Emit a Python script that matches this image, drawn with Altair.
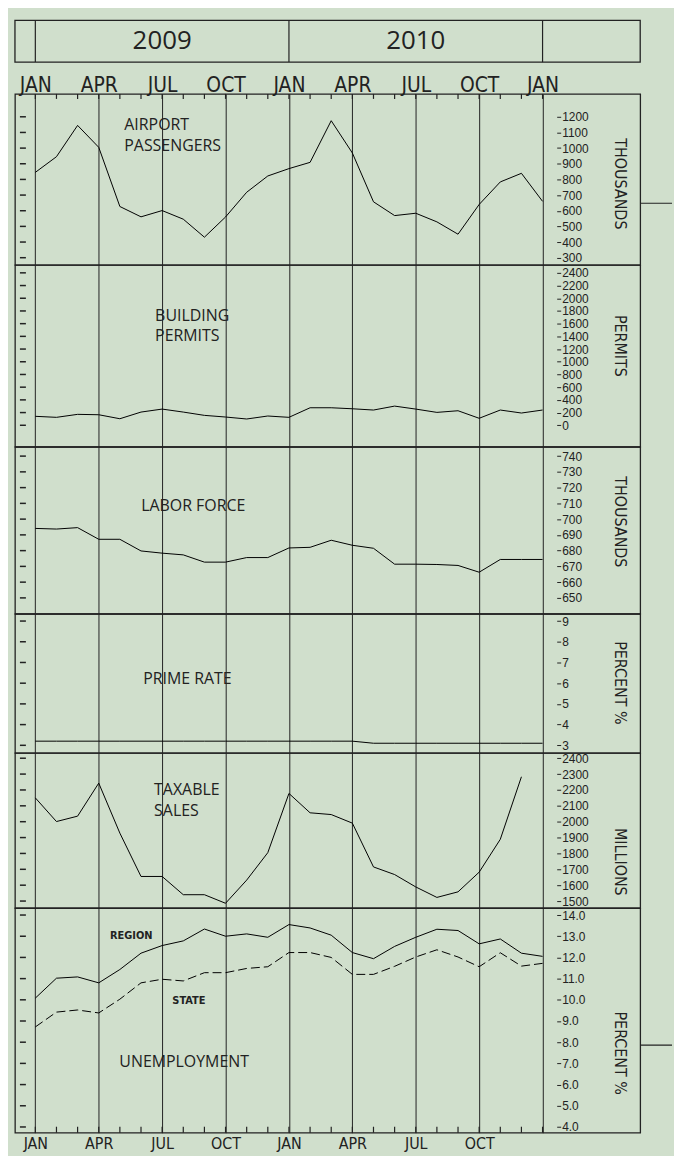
import json
import altair as alt
import pandas as pd

# ---------------- data ----------------
months = list(range(25))                     # Jan 2009 ... Jan 2011 (month index)
quarter_months = [0, 3, 6, 9, 12, 15, 18, 21, 24]
top_month_labels = ["JAN", "APR", "JUL", "OCT", "JAN", "APR", "JUL", "OCT", "JAN"]
bottom_month_labels = ["JAN", "APR", "JUL", "OCT", "JAN", "APR", "JUL", "OCT", ""]
years = ["2009", "2010"]
year_mid = [6, 18]
year_edges = [0, 12, 24]

airport = [845, 945, 1145, 1005, 627, 561, 601, 546, 431, 560, 718, 822, 869,
           909, 1175, 969, 657, 569, 584, 529, 450, 640, 784, 839, 660]
permits = [141, 125, 172, 166, 103, 208, 255, 208, 156, 130, 99, 146, 125,
           276, 276, 260, 240, 302, 255, 203, 229, 110, 240, 193, 240]
labor = [694.1, 693.7, 694.6, 687.2, 687.2, 679.8, 678.4, 677.3, 672.7, 672.7, 675.6, 675.6, 681.7,
         682.1, 686.6, 683.4, 681.5, 671.4, 671.4, 671.2, 670.6, 666.3, 674.4, 674.4, 674.4]
prime = [3.2, 3.2, 3.2, 3.2, 3.2, 3.2, 3.2, 3.2, 3.2, 3.2, 3.2, 3.2, 3.2,
         3.2, 3.2, 3.2, 3.1, 3.1, 3.1, 3.1, 3.1, 3.1, 3.1, 3.1, 3.1]
taxable = [2150, 2001, 2035, 2243, 1928, 1655, 1655, 1540, 1540, 1486, 1632, 1805,
           2178, 2056, 2045, 1991, 1715, 1667, 1589, 1523, 1558, 1682, 1889, 2283]
unemp_region = [10.08, 11.02, 11.08, 10.80, 11.43, 12.20, 12.56, 12.78, 13.34, 13.00, 13.11, 12.95, 13.55,
                13.39, 13.05, 12.23, 11.94, 12.52, 12.95, 13.33, 13.27, 12.64, 12.87, 12.20, 12.05]
unemp_state = [8.72, 9.42, 9.52, 9.38, 10.03, 10.80, 10.97, 10.89, 11.28, 11.28, 11.48, 11.56, 12.23,
               12.23, 12.00, 11.20, 11.20, 11.58, 12.02, 12.36, 12.02, 11.56, 12.22, 11.59, 11.72]

airport_ticks = [300, 400, 500, 600, 700, 800, 900, 1000, 1100, 1200]
permits_ticks = [0, 200, 400, 600, 800, 1000, 1200, 1400, 1600, 1800, 2000, 2200, 2400]
labor_ticks = [650, 660, 670, 680, 690, 700, 710, 720, 730, 740]
prime_ticks = [3, 4, 5, 6, 7, 8, 9]
taxable_ticks = [1500, 1600, 1700, 1800, 1900, 2000, 2100, 2200, 2300, 2400]
unemp_ticks = [4, 5, 6, 7, 8, 9, 10, 11, 12, 13, 14]

# ---------------- style / layout ----------------
BG = "#d0dfcc"
INK = "#222222"
W = 629
STUB = 32
XDOM = [-0.964, 28.62]
xscale = alt.Scale(domain=XDOM, nice=False, zero=False)
NARROW = "DejaVu Sans Condensed, Roboto Condensed, Liberation Sans Narrow, Liberation Sans, sans-serif"
LIGHT = "Open Sans, DejaVu Sans, sans-serif"


def grid_axis():
    return alt.Axis(values=quarter_months, grid=True, gridColor=INK, gridWidth=1, gridOpacity=1,
                    labels=False, ticks=False, tickSize=0, domain=False, title=None)


def month_axis(orient, labels):
    arr = json.dumps(labels)
    if orient == "top":
        pad, base, size = 2, "alphabetic", 21
    else:
        pad, base, size = 3, "top", 16
    return alt.Axis(orient=orient, values=quarter_months, grid=True, gridColor=INK, gridWidth=1,
                    gridOpacity=1, ticks=False, tickSize=0, domain=False, title=None,
                    labelExpr=f"{arr}[round(datum.value / 3)]", labelFont=NARROW,
                    labelFontSize=size, labelColor=INK, labelPadding=pad, labelBaseline=base,
                    labelAngle=0, labelOverlap=False, labelFlush=False)


def y_axis(ticks, unit, unit_y, fmt):
    return alt.Axis(orient="right", offset=-84, values=ticks, format=fmt, domain=False, grid=False,
                    tickSize=4, tickColor=INK, tickWidth=1, labelPadding=1,
                    labelFont="Liberation Sans", labelFontSize=12, labelColor=INK,
                    labelOverlap=False, labelFlush=False, labelBaseline="middle",
                    title=unit, titleAngle=90, titleX=63, titleY=unit_y,
                    titleFont=NARROW, titleFontSize=16, titleFontWeight="normal",
                    titleColor=INK, titleAlign="center", titleBaseline="middle")


def title_text(txt, x, y, size=16):
    return alt.Chart(pd.DataFrame({"t": [txt]})).mark_text(
        align="left", baseline="middle", font=LIGHT, fontSize=size, fontWeight="normal", color=INK
    ).encode(x=alt.value(x), y=alt.value(y), text="t:N")


def panel(series, ticks, domain, height, unit, unit_y, fmt, titles, xaxis_fn=grid_axis,
          extra=None):
    yenc = alt.Y("value:Q", scale=alt.Scale(domain=domain, nice=False, zero=False),
                 axis=y_axis(ticks, unit, unit_y, fmt))
    layers = []
    for vals, dash in series:
        df = pd.DataFrame({"m": months[:len(vals)], "value": vals})
        props = dict(color="black", strokeWidth=1)
        if dash:
            props["strokeDash"] = dash
        layers.append(alt.Chart(df).mark_line(**props).encode(
            x=alt.X("m:Q", scale=xscale, axis=xaxis_fn()), y=yenc))
    tdf = pd.DataFrame({"m": [0] * len(ticks), "value": ticks})
    layers.append(alt.Chart(tdf).mark_rule(color=INK, strokeWidth=1.5).encode(
        x=alt.value(5), x2=alt.value(11), y=yenc))
    for txt, x, y in titles:
        layers.append(title_text(txt, x, y))
    if extra:
        layers.extend(extra)
    return alt.layer(*layers).properties(width=W, height=height)


one = pd.DataFrame({"k": [0]})
mdf = pd.DataFrame({"m": months})

# ---- top year box ----
top = alt.layer(
    alt.Chart(one).mark_rect(fill="transparent", stroke=INK, strokeWidth=1.3).encode(
        x=alt.value(0), x2=alt.value(W), y=alt.value(0), y2=alt.value(42)),
    alt.Chart(pd.DataFrame({"m": year_edges})).mark_rule(color=INK, strokeWidth=1.2).encode(
        x=alt.X("m:Q", scale=xscale, axis=None), y=alt.value(0), y2=alt.value(42)),
    alt.Chart(pd.DataFrame({"m": year_mid, "t": years})).mark_text(
        font=LIGHT, fontSize=26, fontWeight="normal", color=INK, baseline="middle", align="center"
    ).encode(x=alt.X("m:Q", scale=xscale, axis=None), y=alt.value(21), text="t:N"),
).properties(width=W, height=74, view=alt.ViewBackground(stroke="transparent"))

# ---- airport ----
air_extra = [
    alt.Chart(mdf).mark_rule(color=INK, strokeWidth=1.2).encode(
        x=alt.X("m:Q", scale=xscale, axis=month_axis("top", top_month_labels)),
        y=alt.value(0), y2=alt.value(5)),
    alt.Chart(one).mark_rule(color=INK, strokeWidth=1.2).encode(
        x=alt.value(W), x2=alt.value(W + STUB), y=alt.value(110)),
]
p_air = panel([(airport, None)], airport_ticks, [254, 1346], 172, "THOUSANDS", 90, "d",
              [("AIRPORT", 110, 31.5), ("PASSENGERS", 110, 52.8)],
              xaxis_fn=lambda: month_axis("top", top_month_labels), extra=air_extra)

p_perm = panel([(permits, None)], permits_ticks, [-339, 2525], 183, "PERMITS", 81, "d",
               [("BUILDING", 141, 51), ("PERMITS", 141, 72)])

p_labor = panel([(labor, None)], labor_ticks, [639.9, 745.9], 168, "THOUSANDS", 75, "d",
                [("LABOR FORCE", 127, 59.3)])

p_prime = panel([(prime, None)], prime_ticks, [2.63, 9.35], 140, "PERCENT  %", 69, "d",
                [("PRIME RATE", 129, 65.3)])

p_tax = panel([(taxable, None)], taxable_ticks, [1456, 2433], 156, "MILLIONS", 109, "d",
              [("TAXABLE", 140, 37), ("SALES", 140, 58)])

UH = 226
un_extra = [
    alt.Chart(mdf).mark_rule(color=INK, strokeWidth=1.2).encode(
        x=alt.X("m:Q", scale=xscale, axis=month_axis("bottom", bottom_month_labels)),
        y=alt.value(UH - 6), y2=alt.value(UH)),
    alt.Chart(one).mark_rule(color=INK, strokeWidth=1.2).encode(
        x=alt.value(W), x2=alt.value(W + STUB), y=alt.value(138)),
    alt.Chart(pd.DataFrame({"t": ["REGION"]})).mark_text(
        font=NARROW, fontSize=11, fontWeight="bold", color=INK, align="center",
        baseline="middle").encode(x=alt.value(117), y=alt.value(28), text="t:N"),
    alt.Chart(pd.DataFrame({"t": ["STATE"]})).mark_text(
        font=NARROW, fontSize=11, fontWeight="bold", color=INK, align="center",
        baseline="middle").encode(x=alt.value(175), y=alt.value(94), text="t:N"),
]
p_unemp = panel([(unemp_region, None), (unemp_state, [9, 4])], unemp_ticks, [3.73, 14.33], UH,
                "PERCENT  %", 145.5, ".1f", [("UNEMPLOYMENT", 105, 155)],
                xaxis_fn=lambda: month_axis("bottom", bottom_month_labels), extra=un_extra)

chart = alt.vconcat(top, p_air, p_perm, p_labor, p_prime, p_tax, p_unemp,
                    spacing=0, bounds="flush").properties(
    padding={"left": 5, "top": 7, "right": 0, "bottom": 0},
    background=BG,
).configure_view(stroke=INK, strokeWidth=1.3).configure_concat(spacing=0)

chart.save("out.html", embed_options={"renderer": "svg", "actions": False})
